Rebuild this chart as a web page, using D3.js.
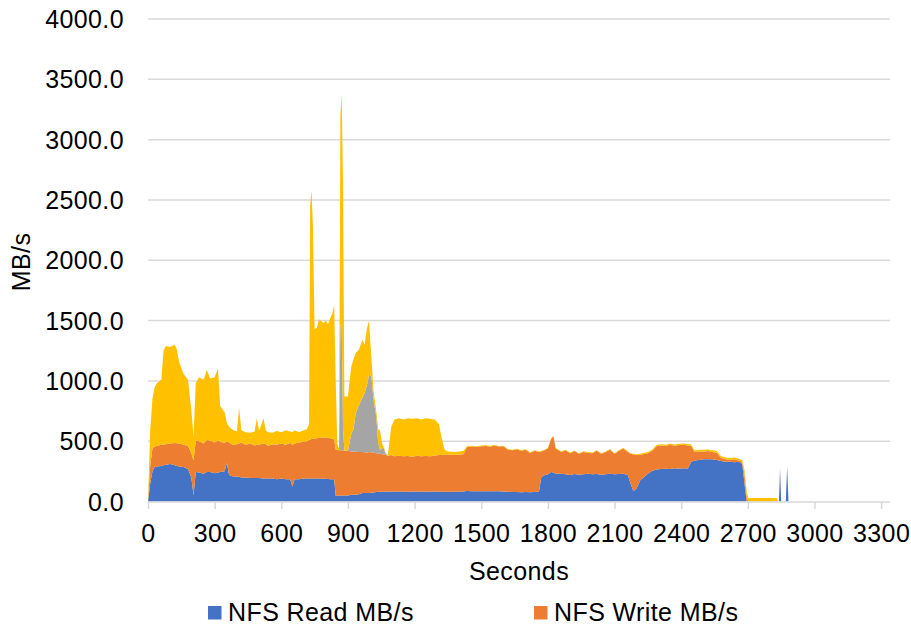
<!DOCTYPE html>
<html>
<head>
<meta charset="utf-8">
<script src="https://cdn.jsdelivr.net/npm/d3@7"></script>
<style>
  html, body { margin: 0; padding: 0; background: #fff; }
  text { font-family: "Liberation Sans", Arial, sans-serif; fill: #000; }
</style>
</head>
<body>
<div id="chart"></div>
<script>
// Chart size
const width = 911;
const height = 627;

// Sample times (seconds)
const seconds = [
  0, 10, 20, 30, 40, 60, 70, 80, 100, 120,
  130, 140, 160, 180, 195, 205, 215, 230, 250, 265,
  280, 300, 315, 325, 345, 355, 365, 380, 400, 410,
  420, 440, 460, 480, 490, 500, 520, 530, 540, 560,
  580, 600, 620, 640, 650, 660, 680, 700, 715, 725,
  730, 736, 742, 750, 760, 770, 790, 800, 810, 820,
  830, 838, 845, 852, 860, 866, 872, 878, 884, 900,
  915, 925, 935, 950, 965, 975, 985, 995, 1005, 1015,
  1028, 1036, 1044, 1055, 1060, 1070, 1080, 1095, 1110, 1130,
  1150, 1170, 1190, 1210, 1230, 1250, 1270, 1290, 1310, 1320,
  1335, 1350, 1380, 1400, 1420, 1435, 1460, 1480, 1500, 1520,
  1540, 1560, 1580, 1600, 1620, 1640, 1660, 1680, 1700, 1720,
  1740, 1760, 1770, 1780, 1800, 1815, 1825, 1835, 1860, 1880,
  1900, 1920, 1940, 1960, 1980, 2000, 2020, 2040, 2060, 2080,
  2100, 2120, 2140, 2160, 2172, 2185, 2200, 2215, 2230, 2250,
  2270, 2290, 2310, 2330, 2350, 2370, 2390, 2410, 2430, 2445,
  2460, 2480, 2500, 2520, 2540, 2560, 2580, 2600, 2620, 2640,
  2660, 2675, 2685, 2695, 2702, 2710, 2830, 2836, 2840, 2845,
  2850, 2871, 2877, 2883, 2890
];

// NFS Read MB/s (blue)
const nfsRead = [
  0, 150, 250, 285, 290, 295, 300, 305, 310, 300,
  295, 290, 285, 270, 200, 50, 245, 240, 230, 245,
  245, 235, 240, 245, 250, 320, 220, 210, 205, 205,
  200, 200, 195, 195, 195, 195, 190, 190, 190, 190,
  185, 190, 185, 185, 125, 185, 185, 190, 190, 190,
  190, 190, 190, 190, 190, 190, 188, 188, 186, 185,
  185, 185, 45, 50, 50, 50, 50, 50, 50, 50,
  55, 55, 55, 60, 70, 70, 70, 70, 72, 75,
  78, 80, 80, 80, 80, 80, 82, 80, 80, 82,
  80, 80, 82, 80, 80, 82, 80, 82, 80, 80,
  80, 80, 80, 80, 82, 88, 86, 85, 86, 85,
  84, 85, 84, 82, 80, 78, 78, 77, 78, 76,
  78, 80, 200, 215, 225, 245, 240, 230, 230, 225,
  220, 228, 222, 225, 230, 225, 228, 222, 225, 230,
  226, 228, 230, 220, 150, 85, 110, 175, 200, 230,
  255, 265, 270, 272, 270, 275, 272, 275, 273, 330,
  340, 345, 350, 350, 350, 345, 335, 330, 330, 325,
  330, 310, 150, 0, 0, 0, 0, 0, 0, 265,
  0, 0, 285, 0, 0
];

// NFS Write MB/s (orange)
const nfsWrite = [
  0, 150, 190, 170, 170, 175, 172, 170, 170, 185,
  187, 190, 185, 190, 200, 290, 260, 260, 250, 265,
  260, 255, 265, 250, 235, 180, 270, 260, 270, 275,
  290, 270, 285, 270, 275, 275, 290, 285, 270, 285,
  285, 290, 285, 300, 345, 295, 305, 305, 310, 320,
  325, 328, 330, 332, 335, 338, 342, 340, 344, 340,
  335, 330, 385, 378, 375, 375, 375, 372, 370, 370,
  360, 360, 357, 350, 340, 338, 335, 340, 336, 330,
  322, 318, 315, 312, 310, 305, 298, 305, 295, 298,
  295, 298, 290, 300, 295, 296, 295, 298, 305, 305,
  308, 310, 305, 310, 310, 362, 369, 367, 372, 375,
  372, 377, 371, 376, 350, 347, 354, 343, 350, 326,
  342, 330, 215, 205, 215, 275, 300, 210, 180, 200,
  180, 190, 173, 185, 175, 175, 192, 173, 185, 200,
  169, 192, 210, 190, 245, 305, 275, 213, 192, 170,
  165, 195, 195, 188, 200, 187, 196, 195, 192, 130,
  70, 70, 62, 68, 60, 60, 25, 20, 15, 25,
  10, 20, 70, 40, 0, 0, 0, 0, 0, 15,
  0, 0, 10, 0, 0
];

// Third series (gray)
const seriesGray = [
  0, 0, 0, 0, 0, 0, 0, 0, 0, 0,
  0, 0, 0, 0, 0, 0, 0, 0, 0, 0,
  0, 0, 0, 0, 0, 0, 0, 0, 0, 0,
  0, 0, 0, 0, 0, 0, 0, 0, 0, 0,
  0, 0, 0, 0, 0, 0, 0, 0, 0, 0,
  0, 0, 0, 0, 0, 0, 0, 0, 0, 0,
  0, 0, 0, 0, 0, 1025, 1045, 178, 0, 0,
  145, 185, 318, 390, 450, 492, 555, 640, 632, 445,
  300, 92, 35, 48, 60, 10, 0, 0, 0, 0,
  0, 0, 0, 0, 0, 0, 0, 0, 0, 0,
  0, 0, 0, 0, 0, 0, 0, 0, 0, 0,
  0, 0, 0, 0, 0, 0, 0, 0, 0, 0,
  0, 0, 0, 0, 0, 0, 0, 0, 0, 0,
  0, 0, 0, 0, 0, 0, 0, 0, 0, 0,
  0, 0, 0, 0, 0, 0, 0, 0, 0, 0,
  0, 0, 0, 0, 0, 0, 0, 0, 0, 0,
  0, 0, 0, 0, 0, 0, 0, 0, 0, 0,
  0, 0, 0, 0, 0, 0, 0, 0, 0, 0,
  0, 0, 0, 0, 0
];

// Fourth series (yellow)
const seriesYellow = [
  0, 290, 410, 495, 520, 540, 778, 815, 800, 815,
  778, 676, 590, 550, 360, 200, 475, 530, 530, 580,
  515, 540, 595, 295, 255, 150, 130, 125, 105, 300,
  100, 105, 90, 115, 220, 115, 210, 115, 115, 95,
  115, 95, 120, 95, 105, 110, 85, 95, 100, 130,
  1935, 2062, 1780, 908, 915, 982, 950, 972, 940, 995,
  1040, 1115, 570, 52, 15, 1750, 1900, 2000, 450, 450,
  560, 580, 500, 460, 480, 400, 470, 450, 160, 70,
  40, 110, 160, 30, 10, 5, 10, 235, 305, 310,
  305, 312, 313, 310, 305, 312, 310, 300, 255, 155,
  42, 25, 25, 25, 26, 8, 7, 6, 6, 6,
  6, 6, 5, 5, 6, 5, 5, 6, 5, 6,
  5, 5, 5, 5, 6, 5, 5, 6, 6, 5,
  6, 5, 5, 6, 5, 6, 5, 6, 5, 6,
  5, 6, 6, 6, 6, 6, 7, 8, 10, 10,
  12, 10, 10, 10, 10, 10, 10, 10, 11, 12,
  15, 15, 16, 14, 15, 15, 15, 15, 15, 14,
  15, 15, 41, 40, 30, 30, 30, 0, 0, 0,
  0, 0, 0, 0, 0
];

const yTicks = [0, 500, 1000, 1500, 2000, 2500, 3000, 3500, 4000];
const xTicks = [0, 300, 600, 900, 1200, 1500, 1800, 2100, 2400, 2700, 3000, 3300];
const seriesKeys = ["read", "write", "gray", "yellow"];
const seriesColors = ["#4472C4", "#ED7D31", "#A5A5A5", "#FFC000"];
const legendNames = ["NFS Read MB/s", "NFS Write MB/s"];

// Build rows for d3.stack
const rows = seconds.map((t, i) => ({
  t: t,
  read: nfsRead[i],
  write: nfsWrite[i],
  gray: seriesGray[i],
  yellow: seriesYellow[i]
}));

const svg = d3.select("#chart").append("svg")
  .attr("width", width)
  .attr("height", height);

// Scales
const x = d3.scaleLinear().domain([0, 3340]).range([148, 890]);
const y = d3.scaleLinear().domain([0, 4000]).range([501.5, 19]);

// Gridlines
svg.append("g")
  .selectAll("line")
  .data(yTicks.slice(1))
  .join("line")
  .attr("x1", 148)
  .attr("x2", 890)
  .attr("y1", d => y(d))
  .attr("y2", d => y(d))
  .attr("stroke", "#D9D9D9")
  .attr("stroke-width", 1.5);

// Stacked areas
const stack = d3.stack().keys(seriesKeys);
const layers = stack(rows);

const area = d3.area()
  .x(d => x(d.data.t))
  .y0(d => y(d[0]))
  .y1(d => y(d[1]));

svg.append("g")
  .selectAll("path")
  .data(layers)
  .join("path")
  .attr("d", area)
  .attr("fill", (d, i) => seriesColors[i]);

// X axis
const xAxis = d3.axisBottom(x)
  .tickValues(xTicks)
  .tickSize(7)
  .tickFormat(d3.format("d"));

const gx = svg.append("g")
  .attr("transform", "translate(0,502)")
  .call(xAxis);
gx.select(".domain").attr("stroke", "#D9D9D9").attr("stroke-width", 1.5)
  .attr("d", "M148,0H890");
gx.selectAll(".tick line").attr("stroke", "#D9D9D9").attr("stroke-width", 1.5);
gx.selectAll(".tick text")
  .attr("y", 40)
  .attr("dy", 0)
  .style("font-size", "25px")
  .style("letter-spacing", "0.4px")
  .attr("fill", "#000")
  .attr("font-family", null);

// Y axis labels
svg.append("g")
  .selectAll("text")
  .data(yTicks)
  .join("text")
  .attr("x", 124)
  .attr("y", d => y(d) + 9)
  .attr("text-anchor", "end")
  .style("font-size", "25px")
  .style("letter-spacing", "0.4px")
  .text(d => d3.format(".1f")(d));

// Axis titles
svg.append("text")
  .attr("x", 519)
  .attr("y", 580)
  .attr("text-anchor", "middle")
  .style("font-size", "25px")
  .style("letter-spacing", "0.4px")
  .text("Seconds");

svg.append("text")
  .attr("transform", "translate(30,262) rotate(-90)")
  .attr("text-anchor", "middle")
  .style("font-size", "25px")
  .style("letter-spacing", "0.4px")
  .text("MB/s");

// Legend
const legendX = [208, 534];
const legend = svg.append("g")
  .selectAll("g")
  .data(legendNames)
  .join("g")
  .attr("transform", (d, i) => `translate(${legendX[i]},606)`);

legend.append("rect")
  .attr("width", 13.5)
  .attr("height", 13.5)
  .attr("fill", (d, i) => seriesColors[i]);

legend.append("text")
  .attr("x", 20)
  .attr("y", 14.5)
  .style("font-size", "25px")
  .style("letter-spacing", "0.4px")
  .text(d => d);
</script>
</body>
</html>
